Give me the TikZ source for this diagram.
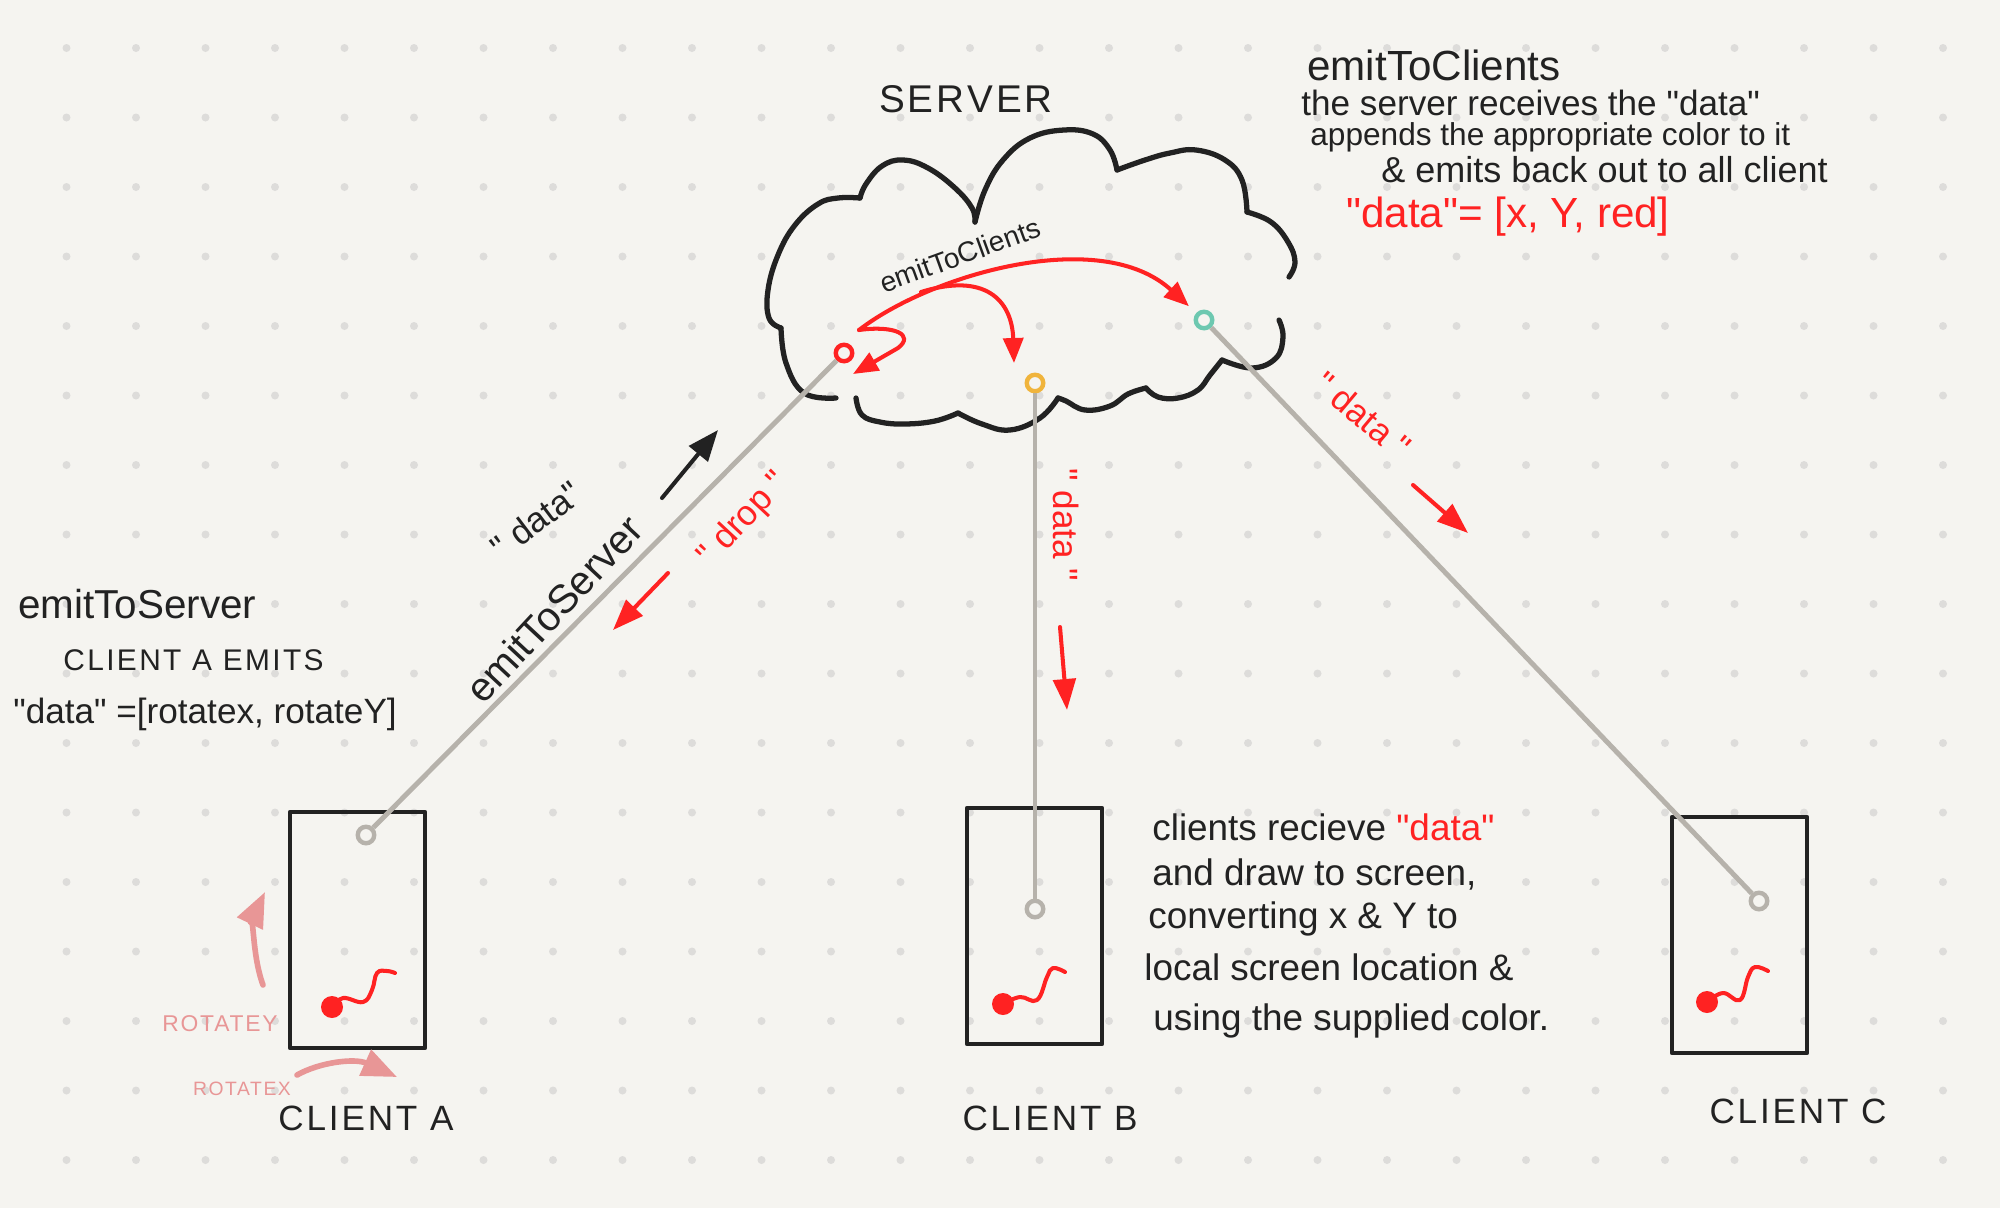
\documentclass[tikz,border=0pt]{standalone}
\usepackage{fontspec}
\setmainfont{Liberation Sans}[Ligatures=TeXOff]
\newfontfamily\capsfont[LetterSpace=8]{Liberation Sans}
\usetikzlibrary{arrows.meta}
\definecolor{bg}{HTML}{F5F4F0}
\definecolor{dotc}{HTML}{DDDCDA}
\definecolor{ink}{HTML}{222222}
\definecolor{wirec}{HTML}{B6B2AB}
\definecolor{hred}{HTML}{FF2222}
\definecolor{pinkc}{HTML}{E89696}
\definecolor{yelc}{HTML}{F0B43C}
\definecolor{tealc}{HTML}{6DC8B0}
\newcommand\myfs[1]{\fontsize{#1}{#1}\selectfont}
\tikzset{
  txt/.style={inner sep=0pt, text=ink},
  redtxt/.style={inner sep=0pt, text=hred},
  port/.style={circle, draw, line width=2.5pt, minimum size=0.33cm, inner sep=0pt, fill=bg},
  wire/.style={draw=wirec, line width=2.8pt},
  clientbox/.style={draw=ink, line width=2.6pt, minimum width=2.7cm, minimum height=4.72cm, inner sep=0pt, line join=round},
  cloudline/.style={draw=ink, line width=3pt, line cap=round, line join=round},
  redarrow/.style={draw=hred, line width=2.3pt, line cap=round, -{Triangle[length=0.5cm,width=0.4cm]}},
  bigred/.style={draw=hred, line width=2.3pt, line cap=round, -{Triangle[length=0.62cm,width=0.45cm]}},
  blackarrow/.style={draw=ink, line width=2.3pt, line cap=round, -{Triangle[length=0.62cm,width=0.48cm]}},
  pinkarrow/.style={draw=pinkc, line width=3.2pt, line cap=round, -{Triangle[length=0.7cm,width=0.55cm]}},
  squig/.style={draw=hred, line width=2.3pt, line cap=round, line join=round},
}
\begin{document}
\begin{tikzpicture}[x=0.02cm, y=-0.02cm]
% background
\fill[bg] (0,0) rectangle (2000,1208);
\useasboundingbox (0,0) rectangle (2000,1208);
\foreach \i in {0,...,27} {
  \foreach \j in {0,...,16} {
    \fill[dotc] (66.5+69.5*\i, 48+69.5*\j) circle (4);
  }
}

% cloud
\draw[cloudline] plot[smooth, tension=0.7] coordinates {(836,398) (804,393) (786,363) (781,328)};
\draw[cloudline] plot[smooth, tension=0.7] coordinates {(781,328) (769,318) (768,290) (778,255) (795,225) (818,204) (838,198) (860,198)};
\draw[cloudline] plot[smooth, tension=0.7] coordinates {(860,198) (866,184) (882,166) (903,160) (928,168) (955,188) (972,208) (975,222)};
\draw[cloudline] plot[smooth, tension=0.7] coordinates {(975,222) (985,190) (1003,160) (1030,138) (1064,130) (1093,134) (1110,150) (1117,170)};
\draw[cloudline] plot[smooth, tension=0.7] coordinates {(1117,170) (1145,160) (1170,153) (1196,150) (1225,160) (1242,180) (1247,212)};
\draw[cloudline] plot[smooth, tension=0.7] coordinates {(1247,212) (1271,222) (1288,242) (1295,262) (1289,277)};
\draw[cloudline] plot[smooth, tension=0.7] coordinates {(1279,320) (1283,337) (1276,358) (1252,368) (1222,360)};
\draw[cloudline] plot[smooth, tension=0.7] coordinates {(1222,360) (1210,375) (1198,390) (1178,398) (1158,397) (1146,388)};
\draw[cloudline] plot[smooth, tension=0.7] coordinates {(1146,388) (1128,394) (1110,406) (1085,410) (1066,401) (1058,398)};
\draw[cloudline] plot[smooth, tension=0.7] coordinates {(1058,398) (1040,418) (1010,430) (982,424) (958,413)};
\draw[cloudline] plot[smooth, tension=0.7] coordinates {(958,413) (935,421) (905,424) (880,422) (862,415) (856,398)};

% server label
\node[txt, anchor=base, font=\capsfont\myfs{22}] (tSrv) at (966,112) {SERVER};

% client boxes
\node[clientbox] (boxA) at (357.5,930) {};
\node[clientbox] (boxB) at (1034.5,926) {};
\node[clientbox] (boxC) at (1739.5,935) {};

% ports
\node[port, draw=hred] (pA) at (844,353) {};
\node[port, draw=yelc] (pB) at (1035,383) {};
\node[port, draw=tealc] (pC) at (1204,320) {};
\node[port, draw=wirec] (cA) at (366,835) {};
\node[port, draw=wirec] (cB) at (1035,909) {};
\node[port, draw=wirec] (cC) at (1759,901) {};

% wires
\draw[wire] (cA) -- (pA);
\draw[wire] (cB) -- (pB);
\draw[wire] (cC) -- (pC);

% blobs and squiggles
\fill[hred] (332,1007) circle (11);
\draw[squig] plot[smooth, tension=0.7] coordinates {(332,1007) (343,998) (363,1002) (372,990) (377,973) (387,971) (395,973)};
\fill[hred] (1003,1004) circle (11);
\draw[squig] plot[smooth, tension=0.7] coordinates {(1003,1004) (1020,997) (1037,1000) (1047,977) (1053,968) (1065,972)};
\fill[hred] (1707,1002) circle (11);
\draw[squig] plot[smooth, tension=0.7] coordinates {(1707,1002) (1723,993) (1740,1000) (1748,977) (1755,967) (1768,971)};

% client labels
\node[txt, anchor=base, font=\capsfont\myfs{20}] (lA) at (366,1130) {CLIENT A};
\node[txt, anchor=base, font=\capsfont\myfs{20}] (lB) at (1050,1130) {CLIENT B};
\node[txt, anchor=base, font=\capsfont\myfs{20}] (lC) at (1798,1123) {CLIENT C};

% arrows in cloud
\coordinate (eS) at (859,330);
\coordinate (eM) at (921,292);
\coordinate (eH) at (853,374);
\coordinate (eMe) at (1014,363);
\draw[redarrow, shorten >=0.2cm] (eS) .. controls (930,275) and (1100,225) .. (pC);
\draw[redarrow] (eM) .. controls (985,272) and (1012,300) .. (eMe);
\draw[redarrow] (eS) .. controls (895,325) and (915,335) .. (898,348) -- (eH);
\node[txt, rotate=20, font=\myfs{16}] (tEtcIn) at (960,255) {emitToClients};

% emitToServer arrows and labels
\coordinate (bS) at (662,498);
\coordinate (bE) at (718,430);
\draw[blackarrow] (bS) -- (bE);
\coordinate (dS) at (668,573);
\coordinate (dE) at (613,630);
\draw[bigred] (dS) -- (dE);
\node[txt, rotate=47, font=\myfs{23}] (tETS) at (554,609) {emitToServer};
\node[txt, rotate=37, font=\myfs{20}] (tDataA) at (536,520) {" data"};
\node[redtxt, rotate=47, font=\myfs{20}] (tDrop) at (744,520) {" drop "};

% data to client B
\node[redtxt, rotate=-90, font=\myfs{20}] (tDataB) at (1066,525) {" data "};
\coordinate (vS) at (1060,627);
\coordinate (vE) at (1067,710);
\draw[bigred] (vS) -- (vE);

% data to client C
\node[redtxt, rotate=-40, font=\myfs{20}] (tDataC) at (1363,415) {" data "};
\coordinate (kS) at (1413,485);
\coordinate (kE) at (1468,533);
\draw[bigred] (kS) -- (kE);

% rotate arrows client A
\coordinate (ryS) at (263,985);
\coordinate (ryE) at (265,892);
\draw[pinkarrow] (ryS) .. controls (252,955) and (254,915) .. (ryE);
\coordinate (rxS) at (297,1075);
\coordinate (rxE) at (397,1077);
\draw[pinkarrow] (rxS) .. controls (320,1062) and (355,1058) .. (rxE);
\node[inner sep=0pt, text=pinkc, font=\capsfont\myfs{13}] (tRY) at (220,1024) {ROTATEY};
\node[inner sep=0pt, text=pinkc, font=\capsfont\myfs{11}] (tRX) at (242,1089) {ROTATEX};

% top-right text block
\node[txt, anchor=base west, font=\myfs{24}] (tEtc) at (1307,80) {emitToClients};
\node[txt, anchor=base west, font=\myfs{20}] (tR1) at (1301,115) {the server receives the "data"};
\node[txt, anchor=base west, font=\myfs{18}] (tR2) at (1310,145) {appends the appropriate color to it};
\node[txt, anchor=base west, font=\myfs{20.5}] (tR3) at (1381,182) {\& emits back out to all client};
\node[redtxt, anchor=base west, font=\myfs{24}] (tR4) at (1346,227) {"data"= [x, Y, red]};

% left text block
\node[txt, anchor=base west, font=\myfs{23}] (tLeft1) at (18,618) {emitToServer};
\node[txt, anchor=base west, font=\capsfont\myfs{17}] (tLeft2) at (63,670) {CLIENT A EMITS};
\node[txt, anchor=base west, font=\myfs{20}] (tLeft3) at (13,723) {"data" =[rotatex, rotateY]};

% center text block
\node[txt, anchor=base west, font=\myfs{21}] (tC1) at (1152,840) {clients recieve \textcolor{hred}{"data"}};
\node[txt, anchor=base west, font=\myfs{21}] (tC2) at (1152,885) {and draw to screen,};
\node[txt, anchor=base west, font=\myfs{21}] (tC3) at (1148,928) {converting x \& Y to};
\node[txt, anchor=base west, font=\myfs{21}] (tC4) at (1144,980) {local screen location \&};
\node[txt, anchor=base west, font=\myfs{21}] (tC5) at (1153,1030) {using the supplied color.};
\end{tikzpicture}
\end{document}
